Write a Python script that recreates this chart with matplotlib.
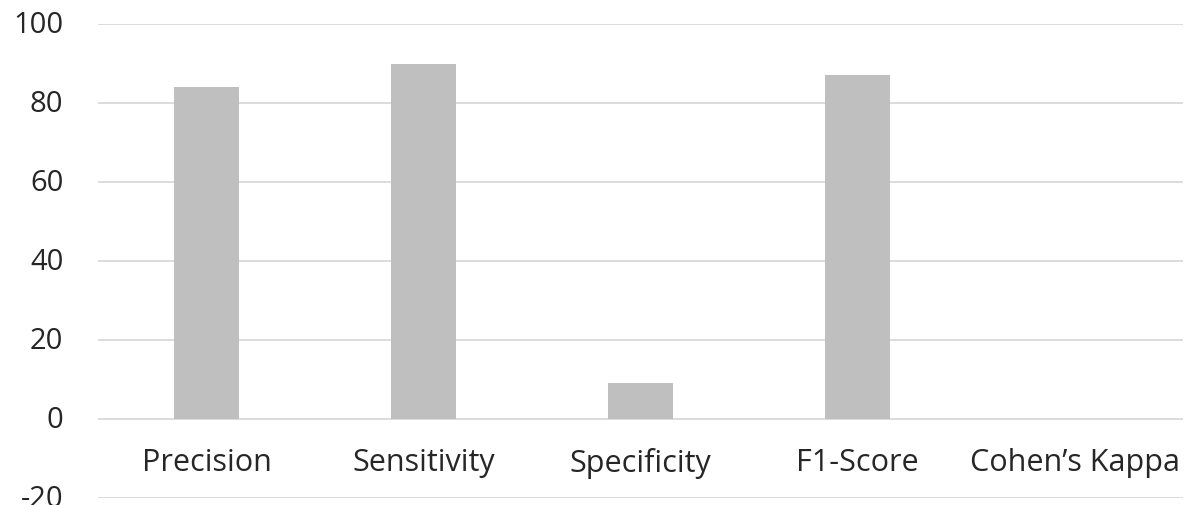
import matplotlib
matplotlib.use("Agg")
import matplotlib.pyplot as plt
from matplotlib.transforms import ScaledTranslation

categories = ["Precision", "Sensitivity", "Specificity", "F1-Score", "Cohen\u2019s Kappa"]
values = [84, 90, 9, 87, 0]
yticks = [-20, 0, 20, 40, 60, 80, 100]

plt.rcParams['font.family'] = ['Open Sans', 'DejaVu Sans']

fig = plt.figure(figsize=(11.85, 5.06), dpi=100)
ax = fig.add_axes([98/1185, 1 - 499/506, (1183-98)/1185, (499-25)/506])

x = list(range(len(categories)))
ax.bar(x, values, width=0.30, color="#bfbfbf", zorder=3)

ax.set_xlim(-0.5, len(categories) - 0.5)
ax.set_ylim(-20, 100)
ax.set_yticks(yticks)
ax.set_yticklabels([str(v) for v in yticks], fontsize=21, color="#262626")
ax.yaxis.grid(True, color="#d9d9d9", linewidth=1.3, zorder=0)
ax.tick_params(axis='y', length=0, pad=25)
shift = ScaledTranslation(0, 3/100, fig.dpi_scale_trans)
for lbl in ax.get_yticklabels():
    lbl.set_transform(lbl.get_transform() + shift)

ax.spines['bottom'].set_position(('data', 0))
for s in ['top', 'right', 'left', 'bottom']:
    ax.spines[s].set_visible(False)
ax.set_xticks(x)
ax.set_xticklabels(categories, fontsize=22, color="#262626")
ax.tick_params(axis='x', length=0, pad=20)

fig.savefig("out.png", dpi=100, facecolor="white")
